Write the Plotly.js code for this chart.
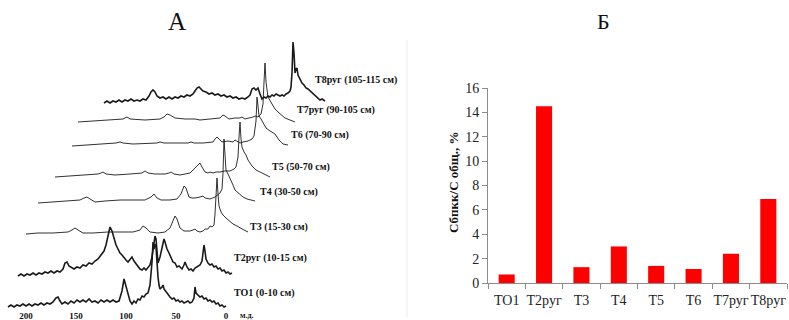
<!DOCTYPE html>
<html><head><meta charset="utf-8">
<script src="https://cdn.plot.ly/plotly-3.0.1.min.js"></script>
<style>html,body{margin:0;padding:0;background:#fff}#chart{width:789px;height:320px}</style>
</head><body><div id="chart"></div>
<script>
// ---------- Panel A: 13C NMR spectra (chemical shift, ppm / relative intensity) ----------
const ppmTO1 = [218,215,212,209,206,203,200,197,194,191,188,185,182,179,176,173,170,168,166,164,161,158,155,152,149,146,143,140,137,134,131,128,125,122,119,116,113,110,107,104,102,100,98,96,94,92,90,88,86,84,82,80,78,76,74,73,72,71,70,69,68,67,66,64,63,62,60,58,56,54,52,50,48,46,44,42,40,38,36,34,32,31,30,28,26,24,22,20,18,16,14,12,10,8,6,4,2,0];
const intTO1 = [0,2,0,2,1,3,1,3,1,3,2,4,2,4,3,5,9,10,6,3,5,3,6,4,7,5,7,5,8,5,6,4,7,5,7,5,7,5,6,16,28,20,12,6,3,6,4,8,7,11,10,13,14,22,45,65,58,63,60,40,30,22,18,20,22,18,15,12,10,8,9,6,7,5,6,4,5,6,4,5,9,20,14,12,10,11,8,9,6,7,5,6,3,4,1,2,0,1];

const ppmT2 = [214,211,208,205,202,199,196,193,190,187,184,181,178,175,172,169,167,165,163,161,158,155,152,149,146,143,140,137,134,131,128,126,124,122,120,118,116,114,112,110,108,106,104,102,100,98,96,94,92,90,88,86,84,82,80,78,77,76,75,74,72,70,69,68,67,65,63,61,59,57,55,53,50,48,47,45,43,41,39,37,35,32,30,29,28,27,26,24,22,20,18,16,14,12,10,8,6,4,2,0];
const intT2 = [1,3,1,3,2,4,2,4,3,5,4,6,4,6,5,8,14,15,11,10,8,10,9,12,11,14,13,16,18,22,26,32,42,50,46,38,32,28,24,22,19,17,15,18,20,16,13,10,8,7,9,7,9,12,20,35,41,38,20,14,20,30,36,38,35,28,24,20,15,14,10,11,8,12,15,10,7,8,6,9,10,12,16,24,32,26,18,14,12,13,10,11,8,9,6,7,4,5,3,4];

const ppmT3 = [222,210,195,180,176,173,170,165,155,140,125,115,108,105,102,98,90,83,78,75,73,71,68,64,58,55,53,51,48,45,43,40,38,36,34,33,32,31,30,29,27,25,22,19,15,11,8,4,0];
const intT3 = [0,1,1,2,4,6,4,1,1,2,2,2,4,8,6,2,1,2,6,14,18,15,6,3,3,4,5,3,2,3,5,5,8,7,9,20,45,56,40,28,22,19,16,13,10,8,6,4,2];

const ppmT4 = [217,205,190,175,171,168,165,160,150,135,120,110,104,101,98,94,85,78,74,71,69,66,63,60,55,52,50,45,40,37,35,33,32,31,30,29,27,25,22,20,16,12,8,4,0];
const intT4 = [0,1,2,3,5,6,4,1,2,3,3,3,6,9,5,3,3,4,9,17,15,6,5,5,6,7,5,4,6,8,10,14,30,64,45,33,29,25,18,13,9,6,4,3,2];

const ppmT5 = [215,200,185,172,169,167,164,155,140,128,125,122,115,105,101,99,96,90,85,80,76,72,70,68,65,62,60,57,54,50,45,40,36,34,32,31,30,29,28,26,24,22,18,14,10,6,3,0];
const intT5 = [0,1,2,3,4,5,3,2,3,4,6,4,3,3,4,5,3,2,3,4,8,12,14,10,5,4,5,4,5,5,6,6,8,10,20,40,55,38,30,25,22,17,11,7,5,3,1,0];

const ppmT6 = [216,200,185,172,168,165,155,140,131,128,124,110,100,97,94,85,75,73,71,69,66,60,55,53,51,48,45,40,36,34,32,31,30,29,27,25,22,18,13,9,5,0];
const intT6 = [0,1,2,3,4,3,2,3,3,4,3,3,3,4,3,3,4,7,9,7,4,5,4,6,5,3,4,5,7,10,25,49,40,30,27,23,18,15,12,6,2,1];

const ppmT7 = [217,200,180,172,168,165,150,135,131,128,125,120,110,100,95,85,75,72,70,66,60,55,53,50,45,42,40,37,34,32,31,30,29,27,23,20,17,13,10,5,0];
const intT7 = [0,1,2,3,5,3,2,3,5,8,7,4,3,3,2,3,4,7,6,3,4,4,5,3,4,5,6,5,8,18,40,59,40,25,18,13,10,6,4,2,0];

const ppmT8 = [221,218,215,212,209,206,203,200,197,194,191,188,185,182,179,176,174,172,170,168,165,162,159,156,153,150,147,144,141,138,135,132,130,128,126,124,122,119,116,113,110,107,104,101,98,95,92,89,86,83,80,77,75,73,71,69,67,65,63,61,59,57,55,53,51,49,47,45,43,41,39,37,35,34,33,32,31,30,29,28,27,25,23,21,19,17,15,13,11,9,7,5,3,1,0];
const intT8 = [0,2,0,2,1,3,1,3,2,4,2,3,2,4,3,7,11,13,11,7,5,6,4,6,4,6,5,7,6,8,7,9,12,15,16,14,12,11,9,10,8,9,7,8,6,7,5,6,4,5,4,6,8,14,15,13,15,9,4,6,5,7,6,8,7,9,8,7,8,7,9,10,12,16,30,61,50,30,34,35,28,24,20,18,15,14,12,10,8,7,5,3,4,2,2];

const spectraLabels = ['ТО1 (0-10 см)','Т2руг (10-15 см)','Т3 (15-30 см)','Т4 (30-50 см)','Т5 (50-70 см)','Т6 (70-90 см)','Т7руг (90-105 см)','Т8руг (105-115 см)'];
const ppmTicks = [200,150,100,50,0];

// ---------- Panel B: bar chart ----------
const barCategories = ['ТО1','Т2руг','Т3','Т4','Т5','Т6','Т7руг','Т8руг'];
const barValues = [0.7,14.5,1.3,3.0,1.4,1.15,2.4,6.9];

// ---------- layout helpers (pixel placement of the stacked spectra) ----------
const W = 789, H = 320;
const stackShiftX = [0,6,22,29,44,62,69,99];
const stackBaseY  = [307,277,234,203,177,146,122,103];
const stackWidth  = [1.6,1.6,0.9,0.9,0.9,0.9,0.9,1.6];
const labelPos = [[232,293],[232,258],[248,227],[258,192],[270,167],[289,135],[295,110],[313,80]];

const ppmData = [ppmTO1,ppmT2,ppmT3,ppmT4,ppmT5,ppmT6,ppmT7,ppmT8];
const intData = [intTO1,intT2,intT3,intT4,intT5,intT6,intT7,intT8];

const serif = 'Liberation Serif';
const data = [];
const layout = {
  width: W, height: H,
  margin: {l:0, r:0, t:0, b:0},
  paper_bgcolor: '#ffffff', plot_bgcolor: 'rgba(0,0,0,0)',
  showlegend: false, bargap: 0.57,
  font: {family: serif, color: '#111'},
  annotations: [], shapes: []
};

for (let i = 0; i < 8; i++) {
  const n = i + 1;
  const sfx = n === 1 ? '' : String(n);
  data.push({
    type: 'scatter', mode: 'lines', x: ppmData[i], y: intData[i],
    xaxis: 'x' + sfx, yaxis: 'y' + sfx,
    line: {color: '#1a1a1a', width: stackWidth[i]}, hoverinfo: 'skip'
  });
  const dx = stackShiftX[i], by = stackBaseY[i];
  layout['xaxis' + sfx] = {
    domain: [(1 + dx) / W, (231 + dx) / W], range: [225, -5],
    anchor: 'y' + sfx, visible: false, showgrid: false, zeroline: false
  };
  layout['yaxis' + sfx] = {
    domain: [(H - (by + 10)) / H, (H - (by - 80)) / H], range: [-10, 80],
    anchor: 'x' + sfx, visible: false, showgrid: false, zeroline: false
  };
  layout.annotations.push({
    xref: 'paper', yref: 'paper', x: labelPos[i][0] / W, y: (H - labelPos[i][1]) / H,
    xanchor: 'left', yanchor: 'middle', showarrow: false, text: '<b>' + spectraLabels[i] + '</b>',
    font: {family: serif, size: 10, color: '#111'}
  });
}
Object.assign(layout.xaxis, {
  visible: true, anchor: 'free', position: (H - 309) / H,
  showline: false, ticks: '', tickmode: 'array', tickvals: ppmTicks,
  ticktext: ppmTicks.map(v => '<b>' + v + '</b>'),
  tickfont: {family: serif, size: 9, color: '#111'}
});
layout.annotations.push({
  xref: 'paper', yref: 'paper', x: 238 / W, y: (H - 315) / H, xanchor: 'left', yanchor: 'middle',
  showarrow: false, text: '<b>м.д.</b>', font: {family: serif, size: 8, color: '#111'}
});
layout.annotations.push({
  xref: 'paper', yref: 'paper', x: 177 / W, y: (H - 21) / H, xanchor: 'center', yanchor: 'middle',
  showarrow: false, text: 'А', font: {family: serif, size: 25, color: '#111'}
});
layout.annotations.push({
  xref: 'paper', yref: 'paper', x: 603 / W, y: (H - 22) / H, xanchor: 'center', yanchor: 'middle',
  showarrow: false, text: 'Б', font: {family: serif, size: 22, color: '#111'}
});

data.push({
  type: 'bar', x: barCategories, y: barValues, xaxis: 'x9', yaxis: 'y9',
  marker: {color: '#ff0000'}, hoverinfo: 'skip'
});
layout.xaxis9 = {
  domain: [488 / W, 787 / W], anchor: 'y9', type: 'category', range: [-0.5, 7.5],
  showline: true, linecolor: '#8c8c8c', linewidth: 1, ticks: 'outside', tickson: 'boundaries',
  ticklen: 5, tickcolor: '#8c8c8c', showgrid: false, zeroline: false, tickangle: 0,
  ticklabelstandoff: 4,
  tickfont: {family: serif, size: 14, color: '#222'}
};
layout.yaxis9 = {
  domain: [37 / H, 232 / H], anchor: 'x9', range: [0, 16], dtick: 2, tick0: 0,
  showline: true, linecolor: '#8c8c8c', linewidth: 1, ticks: 'outside', ticklen: 5,
  tickcolor: '#8c8c8c', showgrid: false, zeroline: false,
  tickfont: {family: serif, size: 14, color: '#222'}
};
layout.annotations.push({
  xref: 'paper', yref: 'paper', x: 453 / W, y: (H - 182) / H, xanchor: 'center', yanchor: 'middle',
  showarrow: false, textangle: -90, text: '<b>Сбпкк/С общ., %</b>',
  font: {family: serif, size: 13, color: '#111'}
});
layout.shapes.push({
  type: 'line', xref: 'paper', yref: 'paper', x0: 407 / W, x1: 407 / W, y0: (H - 40) / H, y1: (H - 317) / H,
  line: {color: '#ececec', width: 1}
});

Plotly.newPlot('chart', data, layout, {staticPlot: true, displayModeBar: false});
</script></body></html>
